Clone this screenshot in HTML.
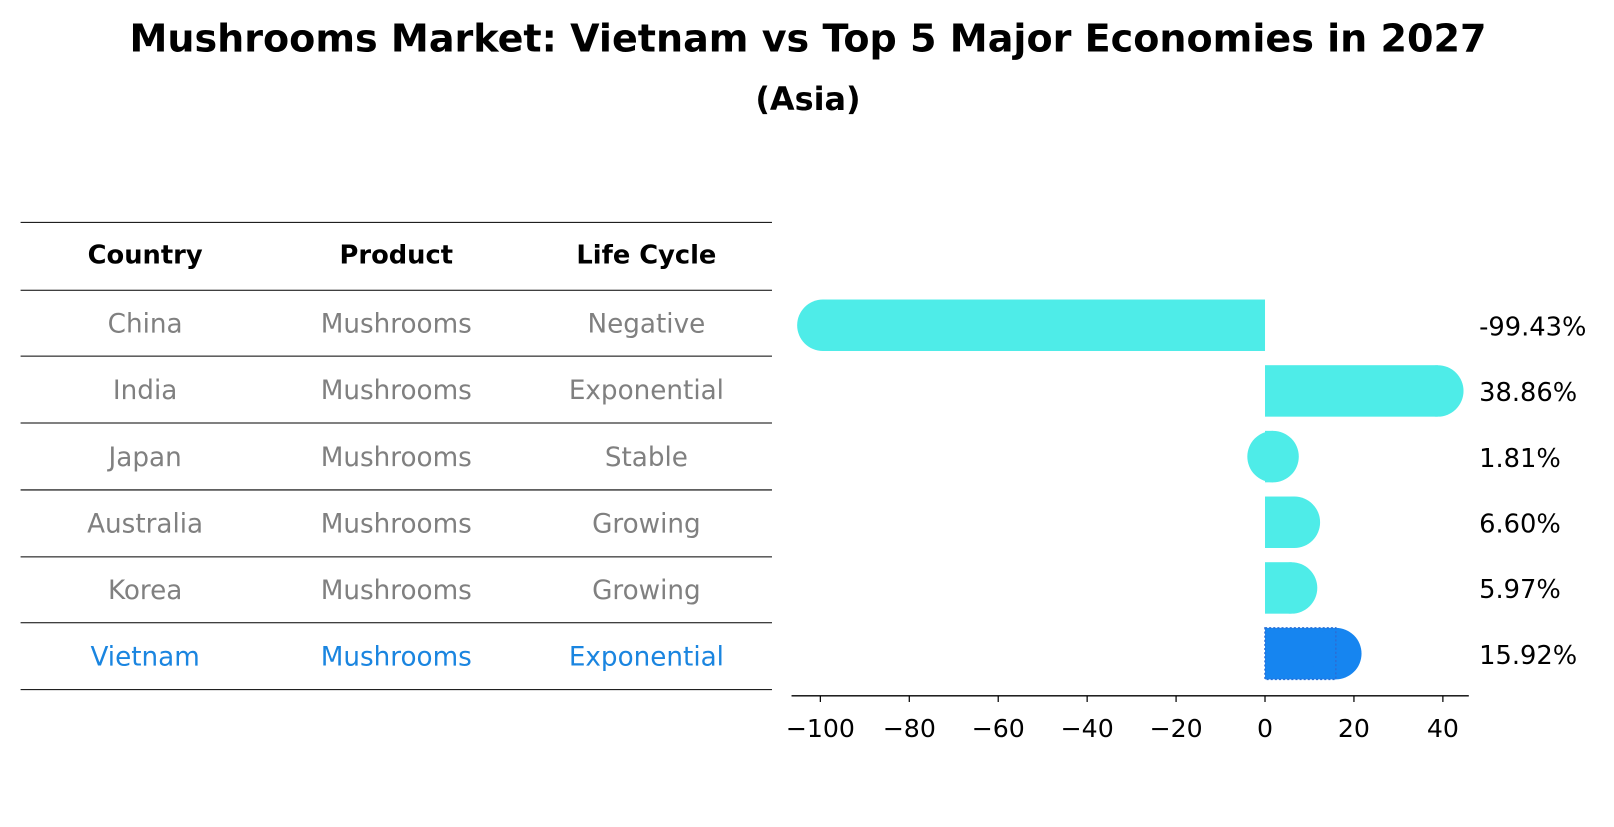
<!DOCTYPE html>
<html><head><meta charset="utf-8"><style>
body{margin:0;background:#fff;font-family:"DejaVu Sans","Liberation Sans",sans-serif;}
svg text{font-family:"DejaVu Sans","Liberation Sans",sans-serif;}
</style></head><body>
<svg width="1614" height="823" viewBox="0 0 1614 823">
<g transform="scale(1.0293)">
<text x="785" y="50" text-anchor="middle" font-size="37" font-weight="bold">Mushrooms Market: Vietnam vs Top 5 Major Economies in 2027</text>
<text x="785" y="107" text-anchor="middle" font-size="31" font-weight="bold">(Asia)</text>
<g id="table"></g>
<g id="bars"></g>
</g>
</svg>
<script>
const countries=["China","India","Japan","Australia","Korea","Vietnam"];
const products=["Mushrooms","Mushrooms","Mushrooms","Mushrooms","Mushrooms","Mushrooms"];
const lifeCycles=["Negative","Exponential","Stable","Growing","Growing","Exponential"];
const values=[-99.43,38.86,1.81,6.60,5.97,15.92];
const valueLabels=["-99.43%","38.86%","1.81%","6.60%","5.97%","15.92%"];
const xTicks=[-100,-80,-60,-40,-20,0,20,40];
const tickLabels=["\u2212100","\u221280","\u221260","\u221240","\u221220","0","20","40"];

const NS="http://www.w3.org/2000/svg";
function mk(tag,attrs,parent,text){const e=document.createElementNS(NS,tag);for(const k in attrs)e.setAttribute(k,attrs[k]);if(text!==undefined)e.textContent=text;parent.appendChild(e);return e;}
const tbl=document.getElementById('table');
const lineYs=[216,282,346,411,476,541,605,670];
lineYs.forEach((y,i)=>{const l=mk('line',{x1:20,x2:750,y1:y,y2:y,stroke:'#000','stroke-width':1},tbl);

});
const colX=[141,385,628];
["Country","Product","Life Cycle"].forEach((h,i)=>{const t=mk('text',{x:colX[i],y:256,'text-anchor':'middle','font-size':25,'font-weight':'bold'},tbl,h);

});
const rowY=i=>(lineYs[i+1]+lineYs[i+2])/2+9;
countries.forEach((c,i)=>{const col=i===countries.length-1?'#1a85e0':'#808080';
[c,products[i],lifeCycles[i]].forEach((v,j)=>{const t=mk('text',{x:colX[j],y:rowY(i),'text-anchor':'middle','font-size':25.5,fill:col},tbl,v);

});});

const bars=document.getElementById('bars');
const x0=1229,scale=4.32;
const xs=v=>x0+v*scale;
const rowC=[316,380,443,508,571,635];
const yc=i=>rowC[0]+i*(rowC[5]-rowC[0])/5;
const h=50,r=25;
values.forEach((v,i)=>{const hl=i===values.length-1;const fill=hl?'#1685f0':'#4eece8';
const xa=Math.min(xs(0),xs(v)),xb=Math.max(xs(0),xs(v));
const g=mk('g',{},bars);


mk('rect',{x:xa,y:yc(i)-h/2,width:xb-xa,height:h,fill:fill},g);
mk('circle',{cx:xs(v),cy:yc(i),r:r,fill:fill},g);
if(hl){mk('rect',{x:xa,y:yc(i)-h/2,width:xb-xa,height:h,fill:'none',stroke:'#2a6fd6','stroke-width':1.5,'stroke-dasharray':'2,2'},g);}
const t=mk('text',{x:1437,y:yc(i)+10,'font-size':25},bars,valueLabels[i]);

});
const ax=mk('line',{x1:769,x2:1427,y1:676,y2:676,stroke:'#000','stroke-width':1.3},bars);


xTicks.forEach((v,i)=>{const tk=mk('line',{x1:xs(v),x2:xs(v),y1:676,y2:682,stroke:'#000','stroke-width':1.2},bars);


const t=mk('text',{x:xs(v),y:716,'text-anchor':'middle','font-size':24.5},bars,tickLabels[i]);

});
</script>
</body></html>
